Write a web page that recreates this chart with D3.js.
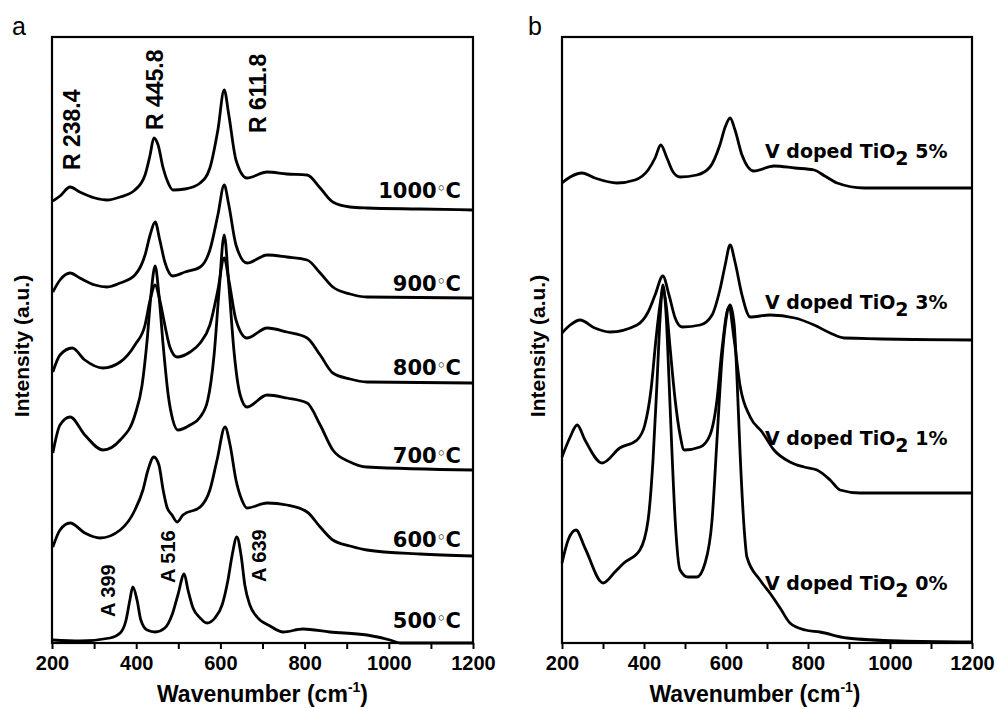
<!DOCTYPE html>
<html>
<head>
<meta charset="utf-8">
<script src="https://cdn.jsdelivr.net/npm/d3@7"></script>
<style>
  body { margin: 0; background: #fff; }
  .tick text { font-family: Arial, "Liberation Sans", sans-serif; font-weight: bold; font-size: 20px; }
  .curve { fill: none; stroke: #000; stroke-width: 2.8; stroke-linejoin: round; }
</style>
</head>
<body>
<svg id="chart" width="997" height="709"></svg>
<script>
// wavenumber (cm-1), intensity (a.u.)
var a1000 = [[202,442],[219,447],[243,456],[266,451],[302,445],[331,443],[362,446],[397,453],[421,468],[433,488],[442,505],[452,498],[464,475],[476,460],[487,453],[516,454],[552,460],[575,475],[594,513],[609,553],[620,528],[637,483],[663,465],[711,471],[758,469],[806,468],[837,455],[867,441],[908,436],[948,435],[1074,434],[1200,433]]
var a900 = [[202,351],[219,363],[243,370],[266,365],[302,358],[331,356],[362,360],[397,368],[421,388],[433,408],[445,421],[456,403],[468,381],[487,367],[516,371],[552,376],[575,393],[594,428],[609,458],[620,438],[637,398],[663,380],[711,388],[758,386],[806,383],[837,370],[867,356],[908,349],[948,346],[1200,345]]
var a800 = [[202,271],[219,288],[248,295],[278,283],[321,275],[362,281],[397,298],[421,318],[433,343],[445,358],[456,343],[468,318],[480,296],[497,286],[528,291],[552,300],[575,318],[594,353],[609,385],[620,363],[637,323],[663,305],[711,315],[758,311],[806,305],[837,288],[867,270],[908,264],[948,261],[1200,260]]
var a700 = [[202,190],[219,218],[243,226],[278,208],[321,193],[362,203],[397,228],[414,258],[426,303],[435,348],[445,377],[454,348],[464,298],[476,248],[487,223],[499,213],[528,218],[552,226],[570,243],[585,288],[597,353],[609,408],[620,358],[632,293],[647,248],[663,236],[711,248],[758,245],[806,240],[837,218],[867,193],[908,181],[948,176],[1200,173]]
var a600 = [[202,96],[219,113],[243,120],[278,110],[314,105],[362,113],[397,133],[416,153],[428,173],[442,186],[454,178],[464,153],[473,136],[485,128],[497,121],[511,128],[552,136],[575,153],[592,183],[611,216],[623,198],[637,163],[651,143],[663,135],[711,140],[758,138],[806,131],[837,116],[867,103],[908,97],[948,93],[1074,89],[1200,87]]
var a500 = [[202,3],[266,2],[338,5],[362,10],[376,23],[385,43],[392,56],[402,43],[411,23],[426,13],[445,11],[468,15],[485,28],[499,48],[514,69],[523,53],[535,35],[552,25],[568,20],[587,25],[604,38],[618,63],[628,88],[639,106],[649,88],[658,58],[670,38],[687,26],[718,17],[749,11],[796,14],[860,11],[948,8],[1003,3],[1027,0],[1200,0]]

var b5 = [[200,460],[220,466],[249,470],[280,465],[334,460],[378,463],[410,473],[427,485],[441,498],[456,485],[471,471],[488,466],[529,468],[561,476],[585,498],[598,516],[610,525],[622,513],[639,488],[668,472],[717,477],[768,475],[815,473],[841,467],[871,460],[937,455],[1200,455]]
var b3 = [[200,310],[220,318],[244,323],[280,315],[317,311],[383,318],[410,331],[427,348],[446,367],[461,348],[476,325],[493,316],[537,318],[566,328],[585,353],[598,378],[610,398],[622,381],[639,348],[659,326],[707,328],[768,325],[815,318],[854,310],[888,305],[1200,303]]
var b1 = [[200,186],[220,206],[237,218],[256,203],[298,180],[341,195],[383,203],[402,218],[417,253],[429,303],[439,338],[446,353],[454,338],[463,298],[476,243],[488,208],[498,193],[537,196],[561,208],[578,243],[590,293],[607,336],[620,303],[634,258],[659,226],[688,211],[717,193],[756,181],[790,176],[822,173],[854,163],[878,153],[927,150],[1200,150]]
var b0 = [[200,80],[215,103],[234,113],[256,95],[300,60],[329,71],[351,80],[390,93],[410,123],[422,183],[432,263],[439,323],[446,358],[454,328],[461,263],[468,193],[476,123],[488,73],[507,66],[529,66],[549,80],[566,123],[578,203],[590,283],[600,323],[610,338],[620,318],[627,263],[634,193],[644,116],[651,86],[683,63],[707,50],[732,35],[756,20],[793,13],[829,11],[895,5],[1024,2],[1200,1]]

var tempLabels = ['1000', '900', '800', '700', '600', '500']
var tempLabelY = [445, 352, 268, 180, 96, 15]
var dopeLabels = ['5%', '3%', '1%', '0%']
var dopeLabelY = [485, 334, 198, 53]
var peakLabels = ['R 238.4', 'R 445.8', 'R 611.8', 'A 399', 'A 516', 'A 639']
var peakPos = [238.4, 445.8, 611.8, 399, 516, 639]
var xMajor = [200, 400, 600, 800, 1000, 1200]
var xMinor = [300, 500, 700, 900, 1100]

var svg = d3.select('#chart')

var panels = [
  {name: 'a', left: 52, right: 473, series: [a1000, a900, a800, a700, a600, a500], titleDx: 0, ylabDx: -23, nameDx: -40},
  {name: 'b', left: 562, right: 972, series: [b5, b3, b1, b0], titleDx: -12, ylabDx: -17, nameDx: -34}
]
var plotTop = 37, plotBottom = 643

panels.forEach(function(p){
  p.x = d3.scaleLinear().domain([200, 1200]).range([p.left, p.right])
  p.y = d3.scaleLinear().domain([0, 606]).range([plotBottom, plotTop])
  var g = svg.append('g')

  var line = d3.line().x(function(d){ return p.x(d[0]) }).y(function(d){ return p.y(d[1]) })
    .curve(d3.curveMonotoneX)

  g.selectAll('path.curve').data(p.series).enter().append('path')
    .attr('class', 'curve').attr('d', line)

  var ax = g.append('g').attr('transform', 'translate(0,' + plotBottom + ')')
    .call(d3.axisBottom(p.x).tickValues(xMajor).tickSize(6).tickPadding(7).tickFormat(d3.format('d')))
  ax.select('.domain').remove()
  ax.selectAll('line').attr('stroke-width', 2)
  var axm = g.append('g').attr('transform', 'translate(0,' + plotBottom + ')')
    .call(d3.axisBottom(p.x).tickValues(xMinor).tickSize(6).tickFormat(''))
  axm.select('.domain').remove()
  axm.selectAll('line').attr('stroke-width', 2)

  g.append('rect').attr('x', p.left).attr('y', plotTop)
    .attr('width', p.right - p.left).attr('height', plotBottom - plotTop)
    .attr('fill', 'none').attr('stroke', '#000').attr('stroke-width', 2.2)

  var t = g.append('text').attr('x', (p.left + p.right) / 2 + p.titleDx).attr('y', 702)
    .attr('text-anchor', 'middle')
    .style('font-family', 'Arial, "Liberation Sans", sans-serif').style('font-weight', 'bold').style('font-size', '23px')
  t.append('tspan').text('Wavenumber (cm')
  t.append('tspan').attr('dy', -10).style('font-size', '14px').text('-1')
  t.append('tspan').attr('dy', 10).text(')')

  g.append('text').attr('transform', 'translate(' + (p.left + p.ylabDx) + ',' + ((plotTop + plotBottom) / 2 + 6) + ') rotate(-90)')
    .attr('text-anchor', 'middle')
    .style('font-family', 'Arial, "Liberation Sans", sans-serif').style('font-weight', 'bold').style('font-size', '21px')
    .text('Intensity (a.u.)')

  svg.append('text').attr('x', p.left + p.nameDx).attr('y', 35).text(p.name)
    .style('font-family', 'Arial, "Liberation Sans", sans-serif').style('font-size', '25px')
})

var pa = panels[0], pb = panels[1]

svg.selectAll('text.temp').data(tempLabels).enter().append('text')
  .attr('class', 'temp').attr('x', 461).attr('y', function(d, i){ return pa.y(tempLabelY[i]) })
  .attr('text-anchor', 'end')
  .style('font-family', '"DejaVu Sans", sans-serif').style('font-weight', 'bold').style('font-size', '21px')
  .each(function(d){
    var t = d3.select(this)
    t.append('tspan').text(d)
    t.append('tspan').attr('dx', 0).attr('dy', -5).style('font-size', '14px').text('\u25E6')
    t.append('tspan').attr('dx', 0).attr('dy', 5).text('C')
  })

// offsets of the rotated peak labels from their peaks, px
var peakDx = [12, 7.5, 41, -21, -10, 29]
var peakY = [473, 513, 510, 26, 60, 61]
svg.selectAll('text.peak').data(peakLabels).enter().append('text')
  .attr('class', 'peak')
  .attr('transform', function(d, i){ return 'translate(' + (pa.x(peakPos[i]) + peakDx[i]) + ',' + pa.y(peakY[i]) + ') rotate(-90)' })
  .style('font-family', 'Arial, "Liberation Sans", sans-serif').style('font-weight', 'bold')
  .style('font-size', function(d){ return d[0] == 'R' ? '23px' : '20px' })
  .text(function(d){ return d })

dopeLabels.forEach(function(d, i){
  var t = svg.append('text').attr('x', 765).attr('y', pb.y(dopeLabelY[i]))
    .style('font-family', '"DejaVu Sans", sans-serif').style('font-weight', 'bold').style('font-size', '19px')
  t.append('tspan').text('V doped TiO')
  t.append('tspan').attr('dy', 7).text('2')
  t.append('tspan').attr('dy', -7).text(' ' + d)
})
</script>
</body>
</html>
